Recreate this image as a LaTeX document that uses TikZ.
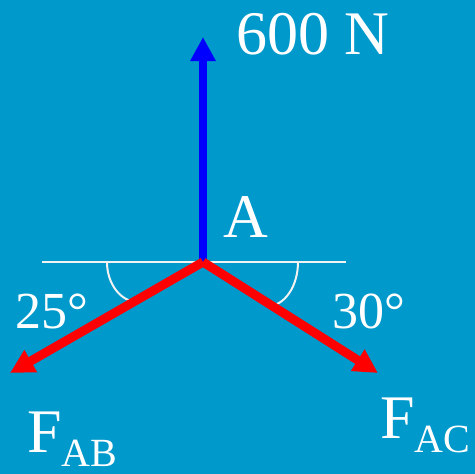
\documentclass[tikz,border=0pt]{standalone}
\usepackage{fontspec}
\setmainfont{Liberation Serif}
\usetikzlibrary{arrows.meta}

\definecolor{bgblue}{HTML}{0099CC}
\definecolor{linewhite}{HTML}{F2F2F2}
\newcommand{\forcesub}[1]{\raisebox{-14pt}{\fontsize{40}{40}\selectfont #1}}

\begin{document}
\begin{tikzpicture}[
    x=1pt, y=-1pt, % pixel-like units, y pointing down
    force/.style={line width=8pt, -{Triangle[length=24pt, width=24pt]}}, % force vectors
    txt/.style={white, anchor=base west, inner sep=0pt, font=\fontsize{62}{62}\selectfont},
    angletxt/.style={txt, font=\fontsize{52}{52}\selectfont},
    thinline/.style={linewhite, line width=2pt}
]

    % --- Background ---
    \fill[bgblue] (0,0) rectangle (475,474);
    \useasboundingbox (0,0) rectangle (475,474);

    % --- Definitions ---
    \coordinate (ptA) at (203,262);
    \coordinate (lineL) at (42,262);
    \coordinate (lineR) at (346,262);
    \coordinate (loadEnd) at (203,37);
    \coordinate (abEnd) at (10,373);
    \coordinate (acEnd) at (378,373);

    % --- Drawing ---
    % Horizontal reference line and angle marks
    \draw[thinline] (lineL) -- (lineR);
    \draw[thinline] (107,262) arc[start angle=180, end angle=90, x radius=31, y radius=40];
    \draw[thinline] (298,262) arc[start angle=0, end angle=90, x radius=30, y radius=44];

    % Load (blue) and member forces (red)
    \draw[force, blue] (ptA) -- (loadEnd);
    \draw[force, red, line width=9pt] (ptA) -- (abEnd);
    \draw[force, red, line width=9pt] (ptA) -- (acEnd);

    % Labels
    \node[txt] (loadlbl) at (236,54) {600 N};
    \node[txt] (Albl) at (223,237) {A};
    \node[angletxt] (ablbl) at (15,328) {25°};
    \node[angletxt] (aclbl) at (332,328) {30°};
    \node[txt] (FABlbl) at (27,452) {F\forcesub{AB}};
    \node[txt] (FAClbl) at (380,438) {F\forcesub{AC}};

\end{tikzpicture}
\end{document}
